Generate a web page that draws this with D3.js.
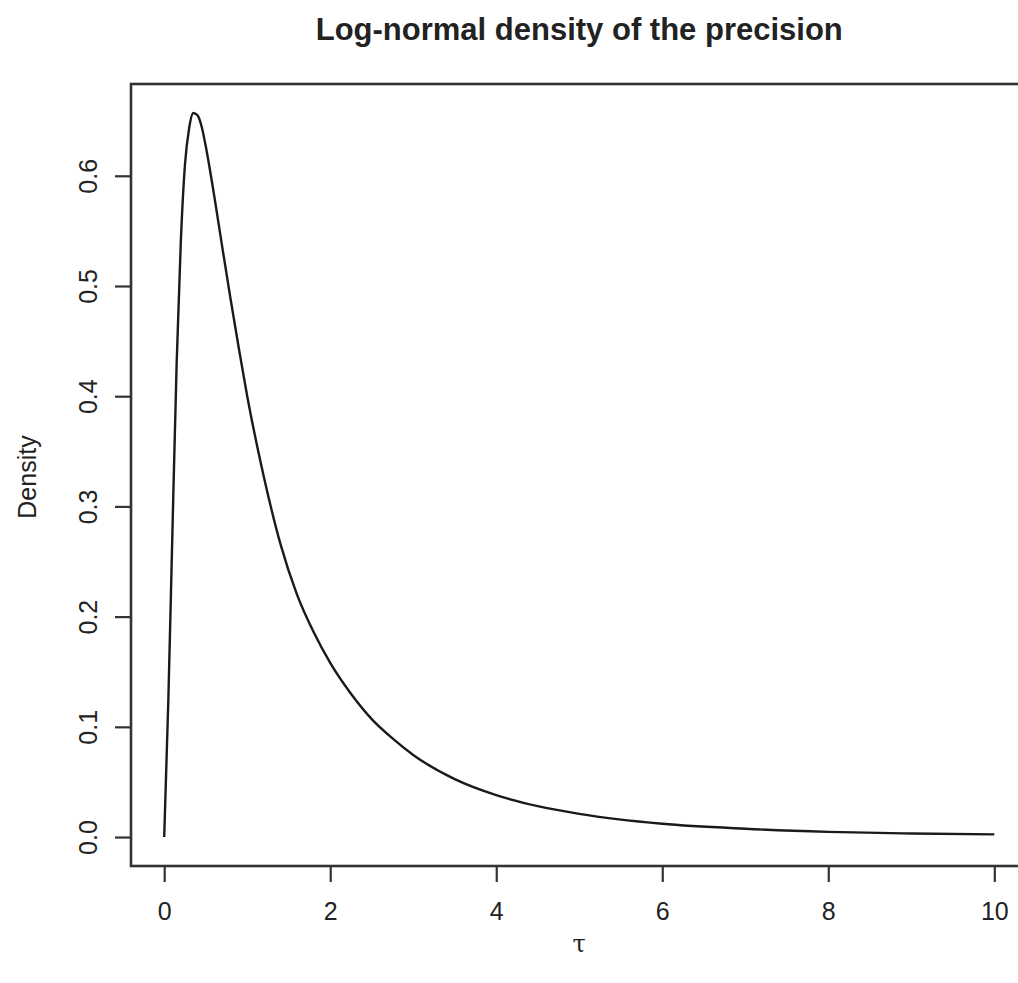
<!DOCTYPE html>
<html>
<head>
<meta charset="utf-8">
<script src="https://cdn.jsdelivr.net/npm/d3@7"></script>
<style>
  body { margin: 0; background: #fff; }
  svg { display: block; }
</style>
</head>
<body>
<div id="chart"></div>
<script>
// values
var tau = [0, 0.05, 0.1, 0.15, 0.2, 0.25, 0.3, 0.35, 0.4, 0.45, 0.5, 0.6, 0.7, 0.8, 0.9, 1.0,
           1.2, 1.4, 1.6, 1.8, 2.0, 2.25, 2.5, 2.75, 3.0, 3.5, 4.0, 4.5, 5.0, 6.0, 7.0, 8.0, 9.0, 10.0];
var density = [0, 0.125, 0.28, 0.43, 0.54, 0.61, 0.643, 0.657, 0.655, 0.645, 0.627, 0.583, 0.535, 0.488, 0.443, 0.40,
               0.327, 0.266, 0.22, 0.186, 0.158, 0.13, 0.107, 0.0895, 0.0745, 0.0525, 0.038, 0.028, 0.021, 0.012, 0.0075, 0.0047, 0.0032, 0.0024];
var xTicks = [0, 2, 4, 6, 8, 10];
var yTicks = [0, 0.1, 0.2, 0.3, 0.4, 0.5, 0.6];

var W = 1018, H = 983;
var box = {left: 131, right: 1027.5, top: 84, bottom: 866};

var svg = d3.select("#chart")
  .append("svg")
    .attr("width", W)
    .attr("height", H)
    .style("font-family", "'Liberation Sans', Arial, sans-serif");

// R style: 4% padding on both axes
var xPad = 0.04 * (d3.max(tau) - d3.min(tau));
var x = d3.scaleLinear()
  .domain([d3.min(tau) - xPad, d3.max(tau) + xPad])
  .range([box.left, box.right]);

var yPad = 0.04 * (d3.max(density) - d3.min(density));
var y = d3.scaleLinear()
  .domain([d3.min(density) - yPad, d3.max(density) + yPad])
  .range([box.bottom, box.top]);

var data = tau.map(function (t, i) { return {t: t, d: density[i]}; });

var line = d3.line()
  .x(function (d) { return x(d.t); })
  .y(function (d) { return y(d.d); })
  .curve(d3.curveMonotoneX);

svg.append("path")
  .datum(data)
  .attr("d", line)
  .attr("fill", "none")
  .attr("stroke", "#1a1a1a")
  .attr("stroke-width", 2.4);

// x axis
var xAxis = svg.append("g")
  .attr("transform", "translate(0," + box.bottom + ")")
  .call(d3.axisBottom(x).tickValues(xTicks).tickSize(16).tickFormat(d3.format("d")));
xAxis.select(".domain").remove();
xAxis.selectAll(".tick line").attr("stroke", "#333").attr("stroke-width", 2.2);
xAxis.selectAll("text")
  .attr("fill", "#222")
  .style("font-size", "25px")
  .style("font-family", "'Liberation Sans', Arial, sans-serif")
  .attr("dy", null)
  .attr("y", 54);

// y axis, labels rotated like R's las=0
var yAxis = svg.append("g")
  .attr("transform", "translate(" + box.left + ",0)")
  .call(d3.axisLeft(y).tickValues(yTicks).tickSize(16).tickFormat(d3.format(".1f")));
yAxis.select(".domain").remove();
yAxis.selectAll(".tick line").attr("stroke", "#333").attr("stroke-width", 2.2);
yAxis.selectAll("text")
  .attr("fill", "#222")
  .style("font-size", "25px")
  .style("font-family", "'Liberation Sans', Arial, sans-serif")
  .attr("x", null)
  .attr("dy", null)
  .attr("text-anchor", "middle")
  .attr("transform", "translate(-34,0) rotate(-90)");

// plot frame
svg.append("rect")
  .attr("x", box.left)
  .attr("y", box.top)
  .attr("width", box.right - box.left)
  .attr("height", box.bottom - box.top)
  .attr("fill", "none")
  .attr("stroke", "#333")
  .attr("stroke-width", 2.6);

// titles
svg.append("text")
  .attr("x", (box.left + box.right) / 2)
  .attr("y", 40)
  .attr("text-anchor", "middle")
  .style("font-size", "31px")
  .style("font-weight", "bold")
  .attr("fill", "#222")
  .text("Log-normal density of the precision");

svg.append("text")
  .attr("transform", "translate(36," + ((box.top + box.bottom) / 2 + 2) + ") rotate(-90)")
  .attr("text-anchor", "middle")
  .style("font-size", "25px")
  .attr("fill", "#222")
  .text("Density");

svg.append("text")
  .attr("x", (box.left + box.right) / 2)
  .attr("y", 952)
  .attr("text-anchor", "middle")
  .style("font-family", "'DejaVu Serif', 'Liberation Serif', serif")
  .style("font-size", "24px")
  .attr("fill", "#222")
  .text("τ");
</script>
</body>
</html>
